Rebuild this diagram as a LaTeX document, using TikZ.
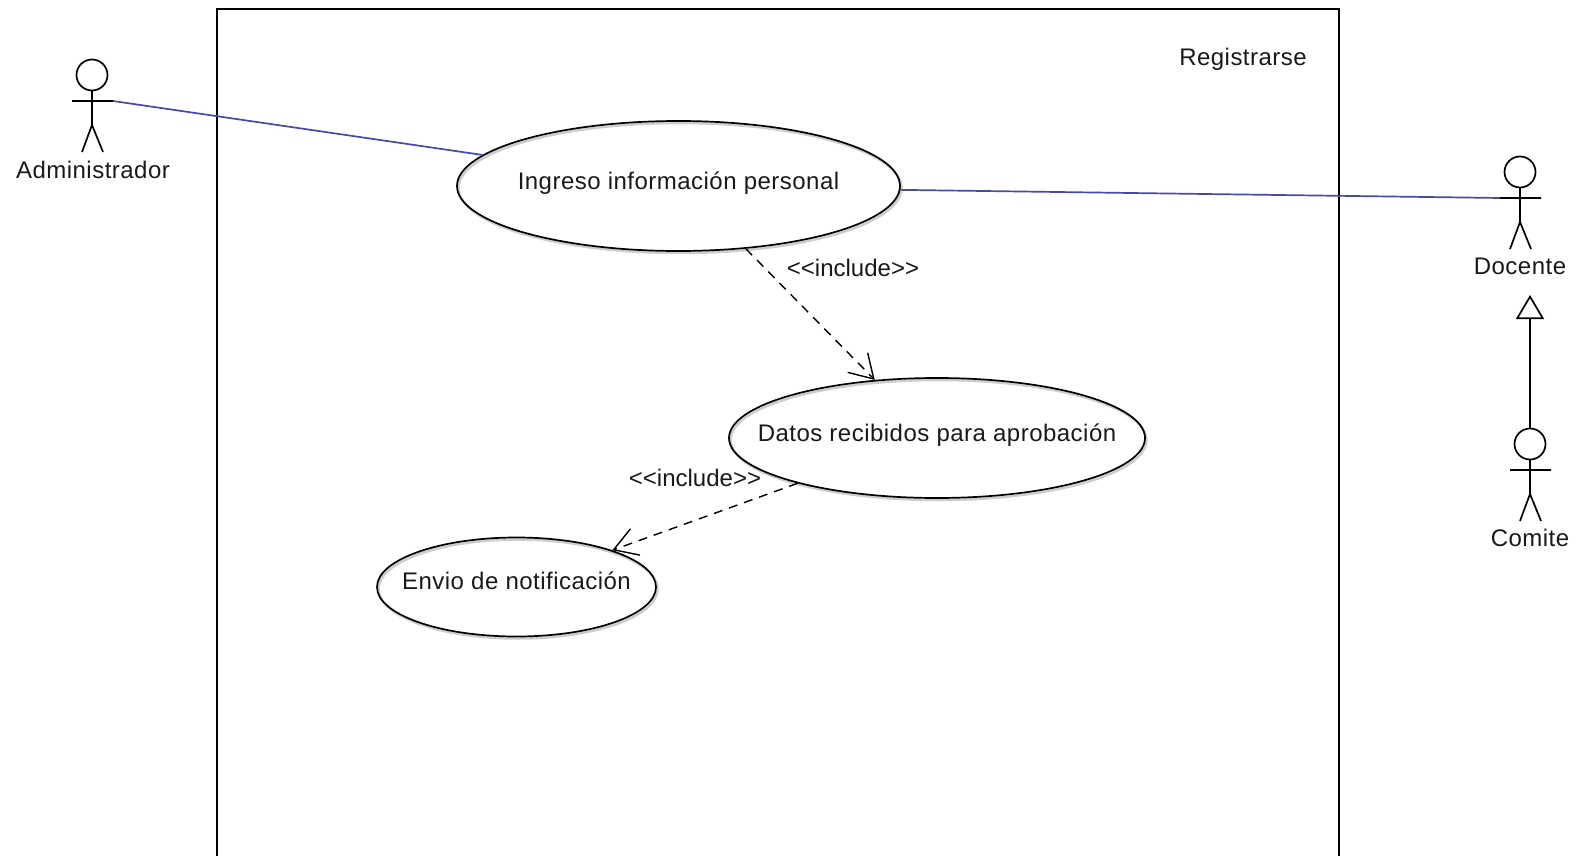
\documentclass[tikz,border=0pt]{standalone}
\usepackage{fontspec}
\setmainfont{Liberation Sans}
\newfontfamily\spaced[LetterSpace=2]{Liberation Sans}
\usetikzlibrary{shapes.geometric,arrows.meta}
\definecolor{assoc}{RGB}{72,72,168}
\definecolor{softshadow}{RGB}{205,205,205}
\definecolor{ink}{RGB}{25,25,25}
\tikzset{
  line/.style={line width=1.7pt,black},
  usecase/.style={draw,ellipse,line width=1.7pt,inner sep=0pt,text=ink,font=\spaced\fontsize{24}{28}\selectfont,
    preaction={draw=softshadow,line width=2.5pt,transform canvas={shift={(1.5pt,-2pt)}}}},
  lbl/.style={text=ink,font=\spaced\fontsize{24}{28}\selectfont,inner sep=0pt},
  assocline/.style={line width=1.7pt,assoc},
  incl/.style={line width=1.4pt,dash pattern=on 9pt off 7pt,-{Straight Barb[length=23pt,width=28pt,line width=1.4pt]}},
  head/.style={draw,circle,line width=1.7pt,minimum size=31pt,inner sep=0pt},
  gen/.style={line width=1.7pt,-{Triangle[open,length=24pt,width=28pt,line width=1.7pt,fill=white]}}
}
\newcommand{\actor}[3]{% name, x, y of head centre
  \node[head] (#1) at (#2,#3) {};
  \coordinate (#1-neck) at (#2,#3+15.5);
  \coordinate (#1-hip) at (#2,#3+50);
  \coordinate (#1-arml) at (#2-20,#3+26);
  \coordinate (#1-armr) at (#2+21,#3+26);
  \coordinate (#1-legl) at (#2-10,#3+77);
  \coordinate (#1-legr) at (#2+11,#3+77);
  \draw[line] (#1-neck) -- (#1-hip) (#1-arml) -- (#1-armr) (#1-legl) -- (#1-hip) -- (#1-legr);
}
\newcommand{\uctext}[2]{\raisebox{#1}{\makebox[0pt]{#2}}}
\begin{document}
\begin{tikzpicture}[x=1pt,y=-1pt]
\useasboundingbox (0,0) rectangle (1581,856);
\coordinate (fbl) at (217,856);
\coordinate (ftl) at (217,9);
\coordinate (ftr) at (1339,9);
\coordinate (fbr) at (1339,856);
\draw[line] (fbl) -- (ftl) -- (ftr) -- (fbr);
\node[lbl] (sys) at (1243,59) {Registrarse};

\node[usecase,minimum width=443pt,minimum height=130pt] (ing) at (678.5,186) {\uctext{11.5pt}{Ingreso información personal}};
\node[usecase,minimum width=416pt,minimum height=120pt] (dat) at (937,438) {\uctext{11.5pt}{Datos recibidos para aprobación}};
\node[usecase,minimum width=279pt,minimum height=99pt] (env) at (516.5,587) {\uctext{13pt}{Envio de notificación}};

\actor{adm}{92}{75}
\actor{doc}{1520}{172}
\actor{com}{1530}{444}
\node[lbl] (admL) at (93,170) {Administrador};
\node[lbl] (docL) at (1520,266) {Docente};
\node[lbl] (comL) at (1530,538) {Comite};

\draw[assocline] (adm-armr) -- (ing.171.7);
\draw[assocline] (ing.359.3) -- (doc-arml);
\draw[incl] (ing.-43) -- (dat.137);
\draw[incl] (dat.198.2) -- (env.21);
\node[lbl,text=ink] (i1) at (853,268) {\normalfont\fontsize{24}{28}\selectfont <{}<include>{}>};
\node[lbl,text=ink] (i2) at (695,478) {\normalfont\fontsize{24}{28}\selectfont <{}<include>{}>};

\coordinate (genTop) at (1530,295);
\draw[gen] (com) -- (genTop);
\end{tikzpicture}
\end{document}
